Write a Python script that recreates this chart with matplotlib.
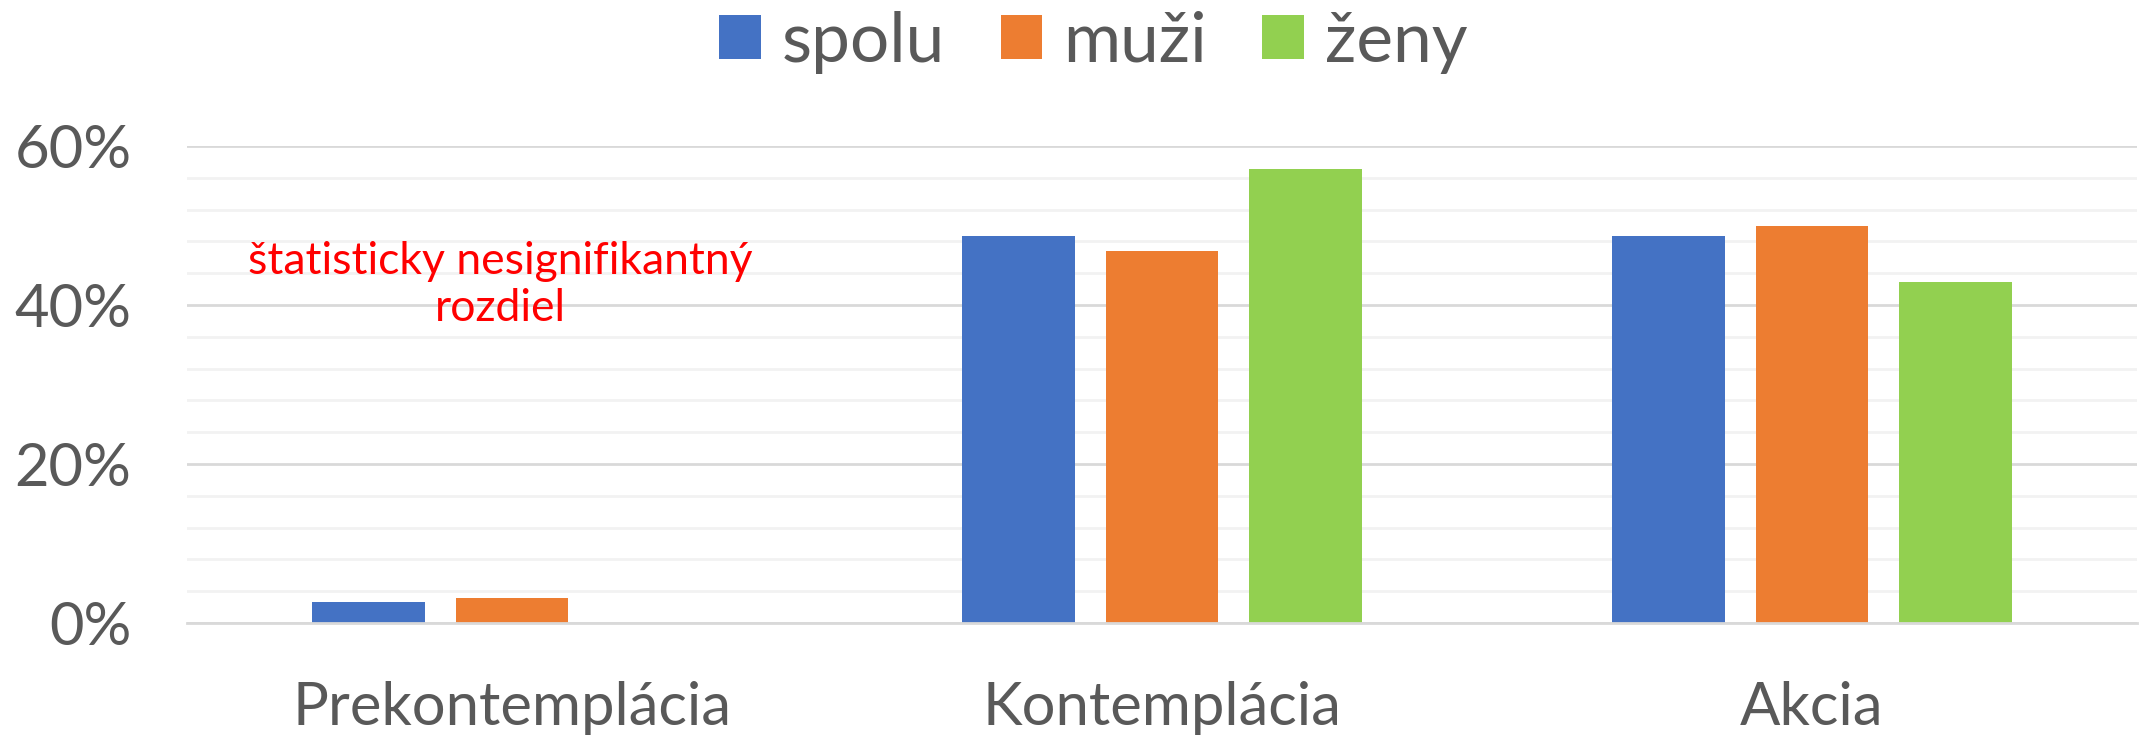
import matplotlib
matplotlib.use("Agg")
import matplotlib.pyplot as plt
import numpy as np
from matplotlib.ticker import MultipleLocator, PercentFormatter
from matplotlib.patches import Patch

categories = ["Prekontemplácia", "Kontemplácia", "Akcia"]
series_names = ["spolu", "muži", "ženy"]
spolu = [0.026, 0.487, 0.487]
muzi = [0.031, 0.468, 0.499]
zeny = [0.0, 0.571, 0.429]
y_ticks = [0.0, 0.2, 0.4, 0.6]
note = "štatisticky nesignifikantný\nrozdiel"

colors = ["#4472C4", "#ED7D31", "#92D050"]
txt = "#595959"

plt.rcParams['font.family'] = ['Lato', 'DejaVu Sans']

fig = plt.figure(figsize=(21.44, 7.37), dpi=100)
ax = fig.add_axes([0.0872, 0.1547, 0.9095, 0.6473])

x = np.arange(len(categories))
offs = [-0.221, 0.0, 0.221]
w = 0.173
for vals, off, c in zip([spolu, muzi, zeny], offs, colors):
    ax.bar(x + off, vals, width=w, color=c, zorder=3)

ax.set_xlim(-0.5, 2.5)
ax.set_ylim(0, 0.6)
ax.yaxis.set_major_locator(plt.FixedLocator(y_ticks))
ax.yaxis.set_minor_locator(MultipleLocator(0.04))
ax.yaxis.set_major_formatter(PercentFormatter(1.0, decimals=0))
ax.grid(axis='y', which='major', color='#d9d9d9', linewidth=2, zorder=0)
ax.grid(axis='y', which='minor', color='#f2f2f2', linewidth=2, zorder=0)
for s in ['top', 'right', 'left']:
    ax.spines[s].set_visible(False)
ax.spines['bottom'].set_color('#d9d9d9')
ax.spines['bottom'].set_linewidth(2)
ax.spines['bottom'].set_zorder(4)

ax.set_xticks(x)
ax.set_xticklabels(categories)
ax.tick_params(axis='x', length=0, pad=42, labelsize=43, labelcolor=txt)
ax.tick_params(axis='y', which='both', length=0, pad=40, labelsize=43, labelcolor=txt)

ax.text(-0.018, 0.425, note, ha='center', va='center', color='red', fontsize=32,
        linespacing=1.2, zorder=5)

handles = [Patch(facecolor=c, edgecolor='none') for c in colors]
fig.legend(handles, series_names, loc='upper center', bbox_to_anchor=(0.51, 1.07),
           ncol=3, frameon=False, fontsize=50, labelcolor=txt,
           handlelength=0.6, handleheight=0.6, handletextpad=0.3, columnspacing=0.8)

fig.savefig("out.png", dpi=100)
